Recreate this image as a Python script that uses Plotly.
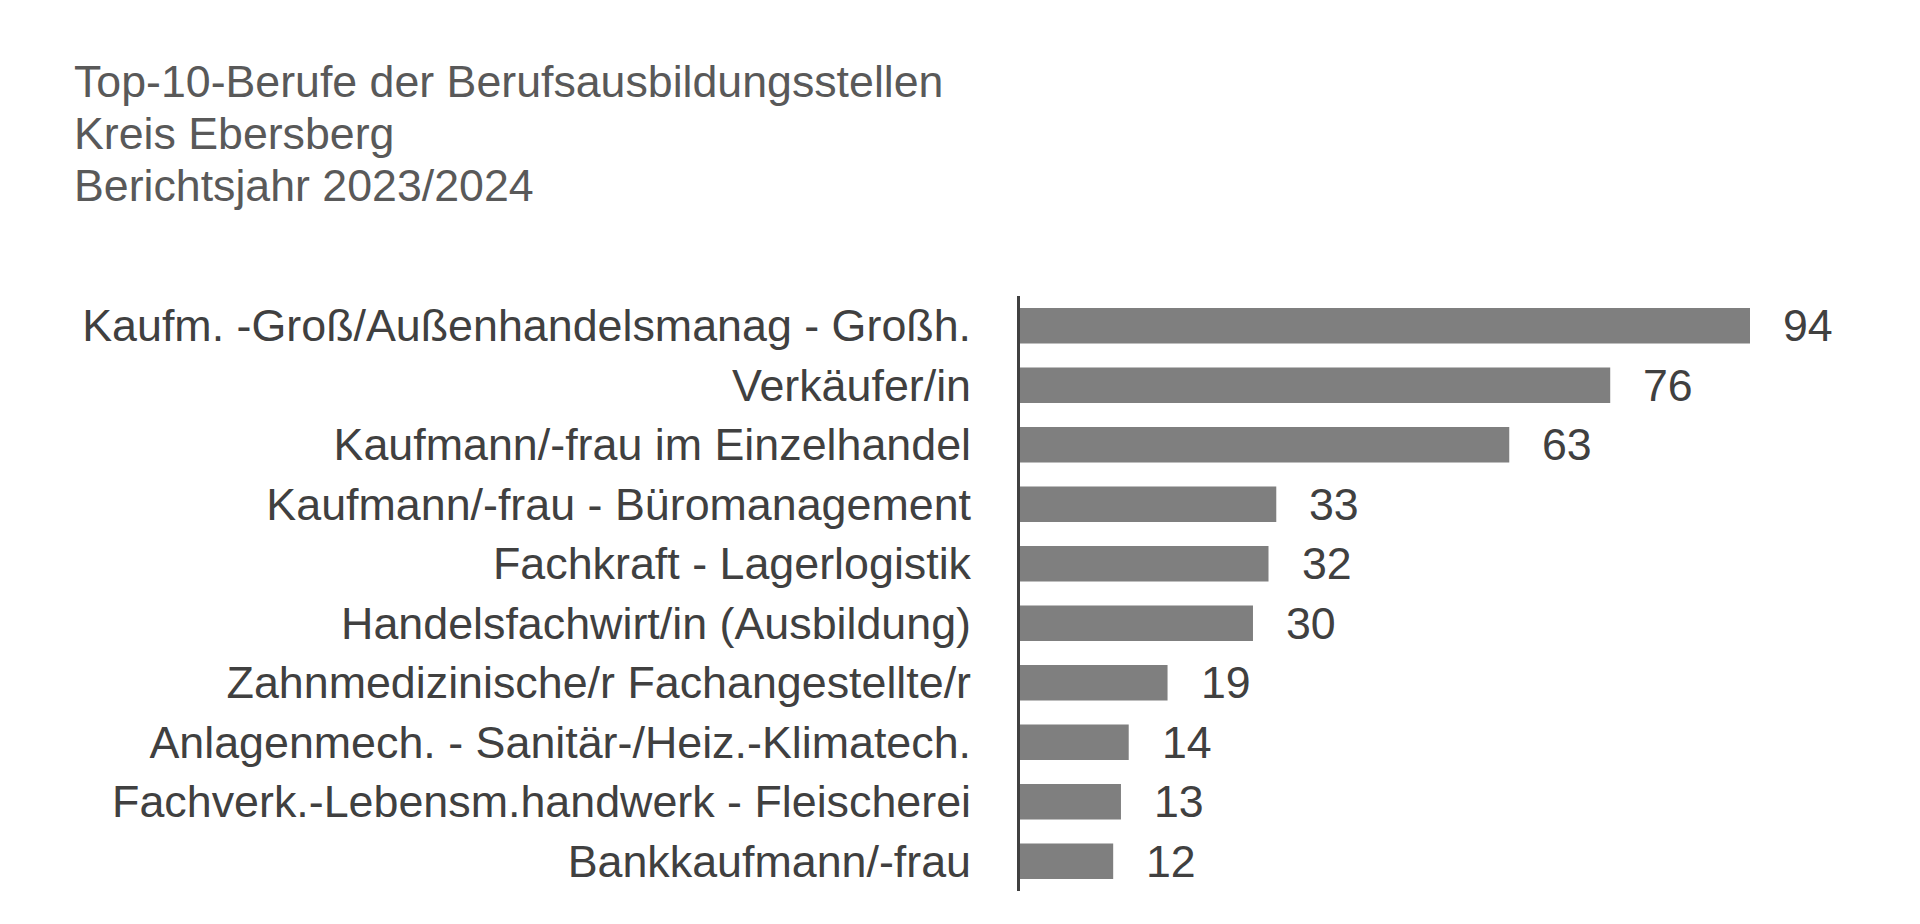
import plotly.graph_objects as go

categories = [
    "Kaufm. -Groß/Außenhandelsmanag - Großh.",
    "Verkäufer/in",
    "Kaufmann/-frau im Einzelhandel",
    "Kaufmann/-frau - Büromanagement",
    "Fachkraft - Lagerlogistik",
    "Handelsfachwirt/in (Ausbildung)",
    "Zahnmedizinische/r Fachangestellte/r",
    "Anlagenmech. - Sanitär-/Heiz.-Klimatech.",
    "Fachverk.-Lebensm.handwerk - Fleischerei",
    "Bankkaufmann/-frau",
]
values = [94, 76, 63, 33, 32, 30, 19, 14, 13, 12]
title_lines = [
    "Top-10-Berufe der Berufsausbildungsstellen",
    "Kreis Ebersberg",
    "Berichtsjahr 2023/2024",
]

W, H = 1920, 924
ML, MR, MT, MB = 1012, 20, 288, 41
plot_w = W - ML - MR
plot_h = H - MT - MB
px_per_unit = 7.766
xmax = plot_w / px_per_unit

FONT = "Liberation Sans, Arial, sans-serif"

fig = go.Figure(go.Bar(
    x=values,
    y=categories,
    orientation="h",
    marker=dict(color="#7f7f7f", line=dict(width=0)),
    width=0.6,
    hoverinfo="x+y",
))

for c, v in zip(categories, values):
    fig.add_annotation(
        x=v, y=c, xref="x", yref="y",
        text=str(v), showarrow=False,
        xanchor="left", yanchor="middle", xshift=31,
        font=dict(family=FONT, size=44.7, color="#404040"),
    )

title_py = [73.5, 125.5, 177.5]
for line, py in zip(title_lines, title_py):
    fig.add_annotation(
        x=(64 - ML) / plot_w, y=(H - MB - py) / plot_h,
        xref="paper", yref="paper",
        text=line, showarrow=False,
        xanchor="left", yanchor="middle",
        font=dict(family=FONT, size=44.7, color="#595959"),
    )

fig.update_layout(
    width=W, height=H,
    margin=dict(l=ML, r=MR, t=MT, b=MB, pad=0, autoexpand=False),
    paper_bgcolor="white",
    plot_bgcolor="white",
    showlegend=False,
    font=dict(family=FONT, color="#404040"),
    xaxis=dict(
        range=[0, xmax], showgrid=False, zeroline=False, automargin=False,
        showticklabels=False, showline=False, ticks="",
    ),
    yaxis=dict(
        autorange="reversed", categoryorder="array", categoryarray=categories,
        showgrid=False, zeroline=False, automargin=False,
        showline=True, linecolor="#404040", linewidth=3,
        ticks="", ticklabelstandoff=37,
        tickfont=dict(family=FONT, size=44.8, color="#404040"),
    ),
)

fig.write_html("out.html")
